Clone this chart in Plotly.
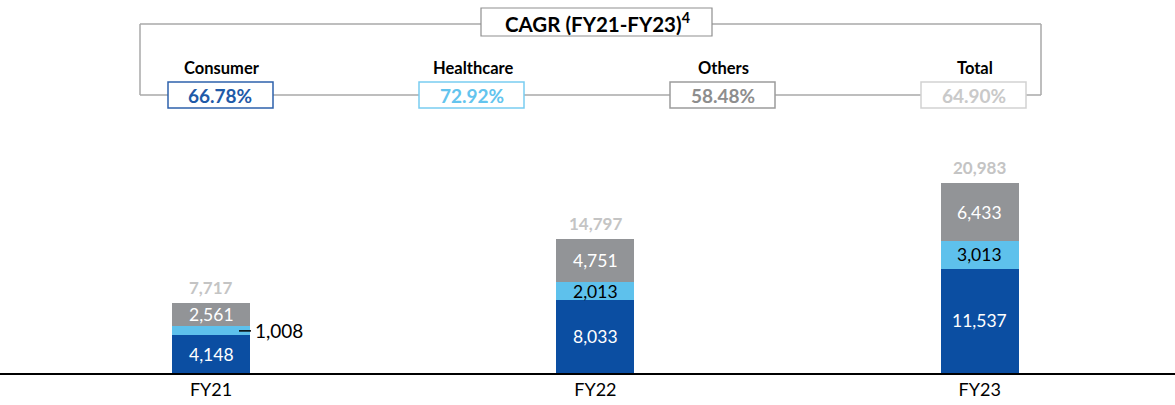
import plotly.graph_objects as go

# ---- data ----
years = ["FY21", "FY22", "FY23"]
consumer = [4148, 8033, 11537]
healthcare = [1008, 2013, 3013]
others = [2561, 4751, 6433]
totals = [7717, 14797, 20983]

cagr_labels = ["Consumer", "Healthcare", "Others", "Total"]
cagr_values = ["66.78%", "72.92%", "58.48%", "64.90%"]

# ---- styles ----
FONT = "Lato, Carlito, 'Open Sans', sans-serif"
C_CONS = "#0B4EA2"
C_HEAL = "#5EC1EC"
C_OTH = "#929497"
C_TOT = "#C4C4C4"
cagr_text_colors = ["#1F5AA8", "#63C4EE", "#8D8D8D", "#C9C9C9"]
cagr_border_colors = ["#2E62AC", "#79CDF1", "#9C9C9C", "#D2D2D2"]
LINE_GRAY = "#A9A9A9"

W, H = 1175, 405
BASE_PX = 373  # y pixel of x axis


def px(x):
    return x / W


def py(y):
    return (BASE_PX - y) / BASE_PX


fig = go.Figure()
series = [("Consumer", consumer, C_CONS), ("Healthcare", healthcare, C_HEAL), ("Others", others, C_OTH)]
for name, vals, col in series:
    fig.add_trace(go.Bar(x=years, y=vals, name=name, marker=dict(color=col, line=dict(width=0)),
                         width=0.203, textposition="none", hoverinfo="skip"))

annotations = []
shapes = []
for i, yr in enumerate(years):
    base = 0
    for name, vals, col in series:
        mid = base + vals[i] / 2
        txtcol = "black" if name == "Healthcare" else "white"
        label = f"{vals[i]:,}"
        if name == "Healthcare" and i == 0:
            annotations.append(dict(x=yr, y=mid, xref="x", yref="y", text=label, showarrow=False,
                                    xanchor="left", yanchor="middle", xshift=42,
                                    font=dict(family=FONT, size=19, color="black")))
            shapes.append(dict(type="line", xref="paper", yref="y", x0=px(239), x1=px(251), y0=mid, y1=mid,
                               line=dict(color="black", width=1.5), layer="above"))
        else:
            annotations.append(dict(x=yr, y=mid, xref="x", yref="y", text=label, showarrow=False,
                                    xanchor="center", yanchor="middle",
                                    font=dict(family=FONT, size=17.5, color=txtcol)))
        base += vals[i]
    annotations.append(dict(x=yr, y=totals[i], xref="x", yref="y", text=f"<b>{totals[i]:,}</b>",
                            showarrow=False, xanchor="center", yanchor="bottom", yshift=3,
                            font=dict(family=FONT, size=17, color=C_TOT)))

# ---- CAGR header ----
line = dict(color=LINE_GRAY, width=1.5)
shapes += [
    dict(type="line", xref="paper", yref="paper", x0=px(140), x1=px(481), y0=py(24), y1=py(24), line=line),
    dict(type="line", xref="paper", yref="paper", x0=px(712), x1=px(1041), y0=py(24), y1=py(24), line=line),
    dict(type="line", xref="paper", yref="paper", x0=px(140), x1=px(140), y0=py(24), y1=py(95), line=line),
    dict(type="line", xref="paper", yref="paper", x0=px(1041), x1=px(1041), y0=py(24), y1=py(95), line=line),
    dict(type="line", xref="paper", yref="paper", x0=px(140), x1=px(1041), y0=py(95), y1=py(95), line=line),
]
shapes.append(dict(type="rect", xref="paper", yref="paper", x0=px(481), x1=px(712), y0=py(36), y1=py(8),
                   line=dict(color="#8F8F8F", width=1.2), fillcolor="white"))
annotations.append(dict(x=px(597), y=py(22.5), xref="paper", yref="paper", showarrow=False,
                        xanchor="center", yanchor="middle",
                        text="<b>CAGR (FY21-FY23)<sup>4</sup></b>",
                        font=dict(family=FONT, size=20.5, color="black")))

box_centers = [220.5, 471.5, 722.5, 973.5]
for j, cx in enumerate(box_centers):
    shapes.append(dict(type="rect", xref="paper", yref="paper", x0=px(cx - 52.5), x1=px(cx + 52.5),
                       y0=py(108), y1=py(82), line=dict(color=cagr_border_colors[j], width=1.5),
                       fillcolor="white"))
    annotations.append(dict(x=px(cx), y=py(95.5), xref="paper", yref="paper", showarrow=False,
                            xanchor="center", yanchor="middle",
                            text=f"<b>{cagr_values[j]}</b>",
                            font=dict(family=FONT, size=19, color=cagr_text_colors[j])))
    annotations.append(dict(x=px(cx + 1), y=py(68), xref="paper", yref="paper", showarrow=False,
                            xanchor="center", yanchor="middle",
                            text=f"<b>{cagr_labels[j]}</b>",
                            font=dict(family=FONT, size=16.5, color="black")))

ymax = BASE_PX / 0.009055
fig.update_layout(
    width=W, height=H,
    margin=dict(l=0, r=0, t=0, b=H - BASE_PX),
    barmode="stack",
    showlegend=False,
    plot_bgcolor="white", paper_bgcolor="white",
    xaxis=dict(range=[-0.549, 2.508], showline=True, linecolor="black", linewidth=1.5,
               showgrid=False, zeroline=False, ticks="", tickfont=dict(family=FONT, size=18, color="black"),
               fixedrange=True),
    yaxis=dict(range=[0, ymax], visible=False, showgrid=False, zeroline=False, fixedrange=True),
    annotations=annotations,
    shapes=shapes,
    font=dict(family=FONT),
)

fig.write_html("out.html", config={"displayModeBar": False},
               post_script="document.body.style.margin='0';document.body.style.padding='0';")
